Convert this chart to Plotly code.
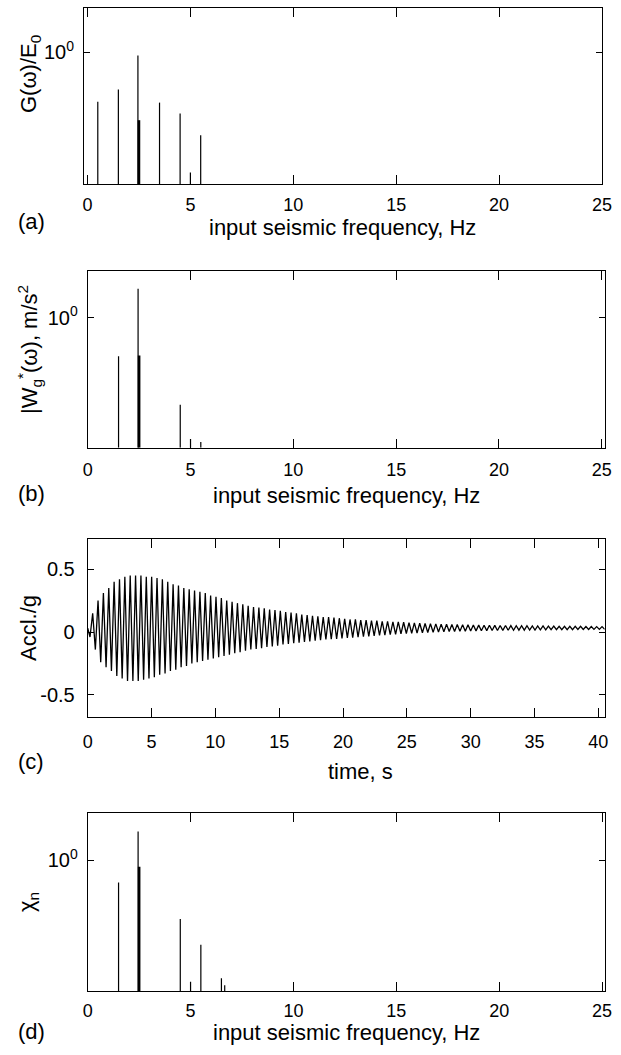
import plotly.graph_objects as go

# ---------------- data ----------------
# (a) G(w)/E0 spectrum lines
freq_a = [0.5, 1.5, 2.45, 3.5, 4.5, 5.0, 5.5]
G_a = [0.0741, 0.141, 0.832, 0.0708, 0.0398, 0.00182, 0.0129]
freq_a_thick = [2.5]
G_a_thick = [0.0282]

# (b) |Wg*(w)| spectrum lines
freq_b = [1.5, 2.45, 4.5, 5.0, 5.5]
W_b = [0.129, 4.68, 0.0098, 0.00158, 0.00135]
freq_b_thick = [2.5]
W_b_thick = [0.135]

# (d) chi_n spectrum lines
freq_d = [1.5, 2.45, 4.5, 5.0, 5.5, 6.5, 6.66]
chi_d = [0.309, 4.57, 0.0447, 0.00162, 0.0115, 0.00195, 0.00135]
freq_d_thick = [2.5]
chi_d_thick = [0.708]

spec_floor = 1e-3

# (c) acceleration record: leading samples, then per-cycle extrema
acc_lead_time = [0.0, 0.18]
acc_lead = [0.03, -0.04]
first_peak_time = 0.39
cycle_period = 0.42
acc_peaks = [0.15, 0.25, 0.31, 0.35, 0.40, 0.42, 0.44, 0.45, 0.45, 0.45, 0.44, 0.44,
             0.43, 0.42, 0.40, 0.38, 0.37, 0.35, 0.34, 0.33, 0.32, 0.31, 0.29, 0.28,
             0.27, 0.25, 0.24, 0.23, 0.22, 0.21, 0.20, 0.195, 0.19, 0.18, 0.175, 0.17,
             0.16, 0.155, 0.15, 0.14, 0.135, 0.13, 0.125, 0.12, 0.12, 0.115, 0.11, 0.105,
             0.10, 0.10, 0.095, 0.095, 0.09, 0.09, 0.085, 0.085, 0.08, 0.08, 0.078, 0.075,
             0.073, 0.07, 0.068, 0.066, 0.065, 0.063, 0.062, 0.06, 0.059, 0.058, 0.057, 0.056,
             0.055, 0.054, 0.054, 0.053, 0.052, 0.052, 0.051, 0.05, 0.05, 0.05, 0.049, 0.048,
             0.048, 0.047, 0.047, 0.046, 0.046, 0.045, 0.045, 0.045, 0.044, 0.044, 0.043, 0.043]
acc_troughs = [-0.14, -0.24, -0.28, -0.31, -0.35, -0.37, -0.39, -0.39, -0.39, -0.38, -0.37, -0.36,
               -0.34, -0.33, -0.31, -0.30, -0.28, -0.27, -0.25, -0.24, -0.23, -0.22, -0.21, -0.20,
               -0.19, -0.18, -0.17, -0.16, -0.15, -0.14, -0.135, -0.13, -0.12, -0.115, -0.11, -0.10,
               -0.095, -0.09, -0.085, -0.08, -0.075, -0.07, -0.065, -0.06, -0.058, -0.055, -0.05, -0.047,
               -0.044, -0.04, -0.037, -0.034, -0.03, -0.027, -0.024, -0.02, -0.018, -0.015, -0.012, -0.01,
               -0.008, -0.006, -0.004, -0.002, 0.0, 0.002, 0.004, 0.005, 0.006, 0.007, 0.008, 0.009,
               0.01, 0.011, 0.012, 0.012, 0.013, 0.014, 0.014, 0.015, 0.015, 0.016, 0.016, 0.017,
               0.017, 0.018, 0.018, 0.018, 0.019, 0.019, 0.02, 0.02, 0.02, 0.021, 0.021, 0.021]

freq_ticks = [0, 5, 10, 15, 20, 25]
time_ticks = [0, 5, 10, 15, 20, 25, 30, 35, 40]
acc_ticks = [-0.5, 0, 0.5]
acc_ticktext = ["-0.5", "0", "0.5"]
log_ticks = [1]
log_ticktext = ["10<sup>0</sup>"]

# ---------------- figure ----------------
W, H = 621, 1055
FONT = "Liberation Sans, Arial, Helvetica, sans-serif"


def px_x(a, b):
    return [a / W, b / W]


def px_y(top, bottom):
    return [1 - bottom / H, 1 - top / H]


def stems(xs, ys):
    sx, sy = [], []
    for x, y in zip(xs, ys):
        sx += [x, x, None]
        sy += [spec_floor, y, None]
    return sx, sy


fig = go.Figure()

panels = [
    (freq_a, G_a, freq_a_thick, G_a_thick, "x", "y"),
    (freq_b, W_b, freq_b_thick, W_b_thick, "x2", "y2"),
    (freq_d, chi_d, freq_d_thick, chi_d_thick, "x4", "y4"),
]
for fx, fy, tx, ty, xa, ya in panels:
    sx, sy = stems(fx, fy)
    fig.add_trace(go.Scatter(x=sx, y=sy, mode="lines", line=dict(color="black", width=1.2),
                             xaxis=xa, yaxis=ya, showlegend=False, hoverinfo="skip"))
    sx, sy = stems(tx, ty)
    fig.add_trace(go.Scatter(x=sx, y=sy, mode="lines", line=dict(color="black", width=2.6),
                             xaxis=xa, yaxis=ya, showlegend=False, hoverinfo="skip"))

# acceleration series
t_acc = list(acc_lead_time)
y_acc = list(acc_lead)
for k, (p, q) in enumerate(zip(acc_peaks, acc_troughs)):
    t_acc += [first_peak_time + k * cycle_period, first_peak_time + (k + 0.5) * cycle_period]
    y_acc += [p, q]
fig.add_trace(go.Scatter(x=t_acc, y=y_acc, mode="lines", line=dict(color="black", width=1.3),
                         xaxis="x3", yaxis="y3", showlegend=False, hoverinfo="skip"))

axis_common = dict(showline=True, linecolor="black", linewidth=1, mirror="allticks",
                   ticks="inside", tickcolor="black", tickwidth=1, showgrid=False,
                   zeroline=False)
xtick_font = dict(family=FONT, size=18, color="black")
ytick_font = dict(family=FONT, size=20, color="black")

layout = dict(
    width=W, height=H, autosize=False, margin=dict(l=0, r=0, t=0, b=0, autoexpand=False),
    paper_bgcolor="white", plot_bgcolor="white", font=dict(family=FONT, color="black"),
    showlegend=False,
    xaxis=dict(domain=px_x(84, 602), range=[-0.17, 25], anchor="y", tickmode="array",
               tickvals=freq_ticks, ticklen=9, tickfont=xtick_font, ticklabelstandoff=4, **axis_common),
    yaxis=dict(domain=px_y(8, 184), type="log", range=[-3, 1], anchor="x", tickmode="array",
               tickvals=log_ticks, ticktext=log_ticktext, ticklen=6, tickfont=ytick_font,
               ticklabelstandoff=5, **axis_common),
    xaxis2=dict(domain=px_x(87.7, 605.3), range=[0, 25.17], anchor="y2", tickmode="array",
                tickvals=freq_ticks, ticklen=9, tickfont=xtick_font, ticklabelstandoff=6, **axis_common),
    yaxis2=dict(domain=px_y(270.5, 447.7), type="log", range=[-3, 1.09], anchor="x2", tickmode="array",
                tickvals=log_ticks, ticktext=log_ticktext, ticklen=6, tickfont=ytick_font,
                ticklabelstandoff=5, **axis_common),
    xaxis3=dict(domain=px_x(87.7, 604.7), range=[0, 40.5], anchor="y3", tickmode="array",
                tickvals=time_ticks, ticklen=9, tickfont=xtick_font, ticklabelstandoff=9, **axis_common),
    yaxis3=dict(domain=px_y(539.3, 716.7), range=[-0.675, 0.739], anchor="x3", tickmode="array",
                tickvals=acc_ticks, ticktext=acc_ticktext, ticklen=6, tickfont=ytick_font,
                ticklabelstandoff=8, **axis_common),
    xaxis4=dict(domain=px_x(87.7, 605.3), range=[0, 25.16], anchor="y4", tickmode="array",
                tickvals=freq_ticks, ticklen=9, tickfont=xtick_font, ticklabelstandoff=3, **axis_common),
    yaxis4=dict(domain=px_y(813.3, 991), type="log", range=[-3, 1.08], anchor="x4", tickmode="array",
                tickvals=log_ticks, ticktext=log_ticktext, ticklen=6, tickfont=ytick_font,
                ticklabelstandoff=5, **axis_common),
)
fig.update_layout(**layout)

TFONT = dict(family=FONT, size=22, color="black")


def ann(text, x, y, angle=0, xanchor="center"):
    fig.add_annotation(text=text, x=x / W, y=1 - y / H, xref="paper", yref="paper",
                       showarrow=False, textangle=angle, xanchor=xanchor, yanchor="middle",
                       font=TFONT)


# y-axis titles
ann("G(ω)/E<sub>0</sub>", 30, 74, -90)
ann("|W<sub>g</sub><sup>*</sup>(ω), m/s<sup>2</sup>", 29, 350, -90)
ann("Accl./g", 28, 628, -90)
ann("χ<sub>n</sub>", 28, 902, -90)

# x-axis titles
ann("input seismic frequency, Hz", 342, 227)
ann("input seismic frequency, Hz", 346, 495)
ann("time, s", 360, 771)
ann("input seismic frequency, Hz", 346, 1032)

# panel letters
ann("(a)", 16, 221, xanchor="left")
ann("(b)", 16, 493, xanchor="left")
ann("(c)", 16, 761, xanchor="left")
ann("(d)", 16, 1031, xanchor="left")

fig.write_html(
    "out.html",
    config={"displayModeBar": False, "responsive": False},
    post_script="document.body.style.margin='0';document.body.style.overflow='hidden';",
)
